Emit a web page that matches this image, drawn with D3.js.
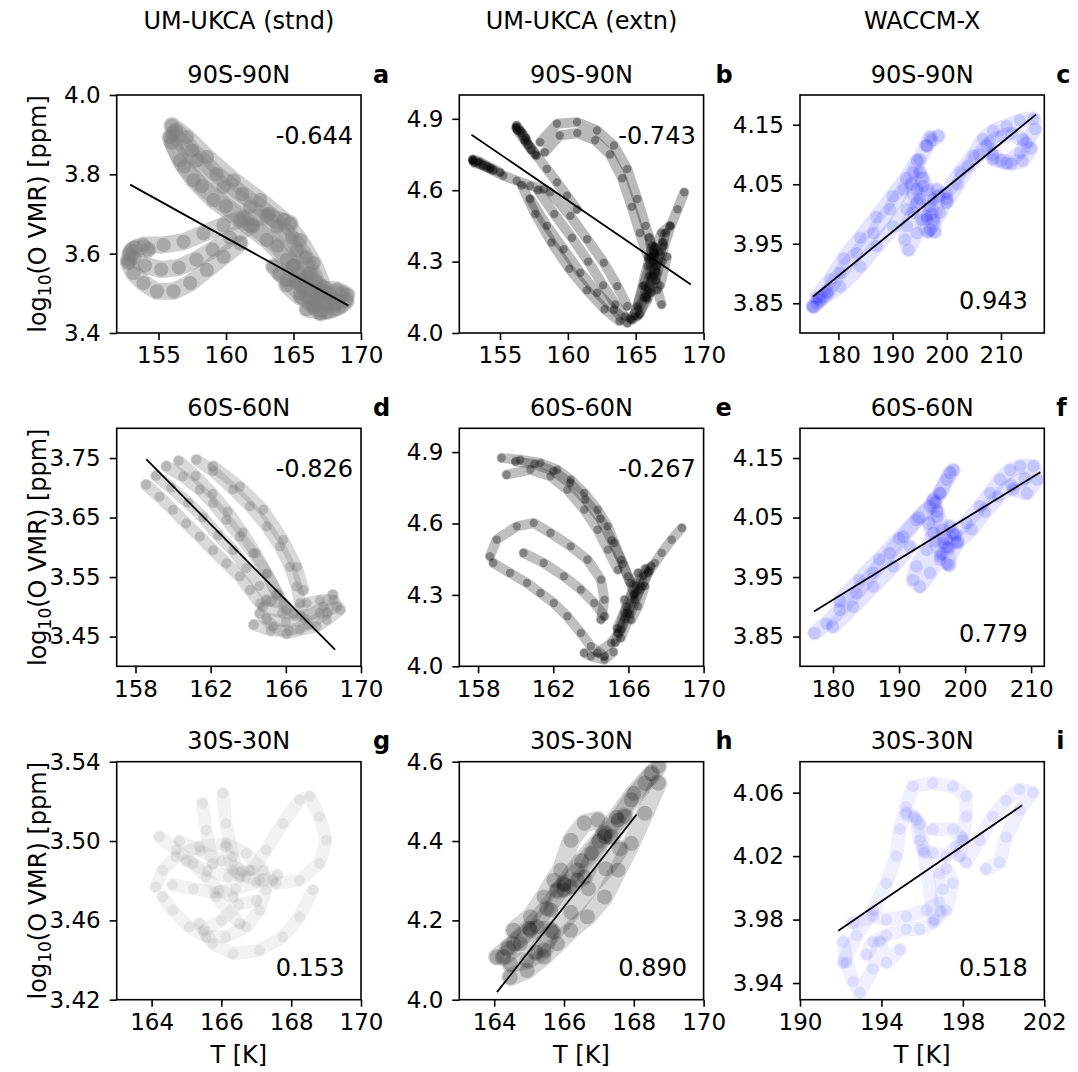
<!DOCTYPE html>
<html lang="en">
<head>
    <meta charset="UTF-8">
    <title>O VMR vs T</title>
    <script src="https://cdn.jsdelivr.net/npm/d3@7/dist/d3.min.js"></script>
    <style>
        body { margin: 0; background: #fff; }
        text { font-family: "DejaVu Sans", sans-serif; fill: #000; }
    </style>
</head>
<body>
<svg width="1078" height="1072"></svg>
<script>
// ---- labels ----
var modelNames = ["UM-UKCA (stnd)", "UM-UKCA (extn)", "WACCM-X"];
var bandNames = ["90S-90N", "60S-60N", "30S-30N"];
var letters = ["a", "b", "c", "d", "e", "f", "g", "h", "i"];
var corrText = ["-0.644", "-0.743", "0.943", "-0.826", "-0.267", "0.779", "0.153", "0.890", "0.518"];

// ---- axis limits and tick labels ----
var xLimits = [[151.9, 170], [152, 170], [172.9, 218],
               [157, 170], [157, 170], [175, 212],
               [163, 170], [163, 170], [190, 202]];
var yLimits = [[3.4, 4.0], [4.0, 5.0], [3.8, 4.2],
               [3.4, 3.8], [4.0, 5.0], [3.8, 4.2],
               [3.42, 3.54], [4.0, 4.6], [3.9295, 4.0795]];
var xTickLabels = [["155", "160", "165", "170"], ["155", "160", "165", "170"], ["180", "190", "200", "210"],
                   ["158", "162", "166", "170"], ["158", "162", "166", "170"], ["180", "190", "200", "210"],
                   ["164", "166", "168", "170"], ["164", "166", "168", "170"], ["190", "194", "198", "202"]];
var yTickLabels = [["3.4", "3.6", "3.8", "4.0"], ["4.0", "4.3", "4.6", "4.9"], ["3.85", "3.95", "4.05", "4.15"],
                   ["3.45", "3.55", "3.65", "3.75"], ["4.0", "4.3", "4.6", "4.9"], ["3.85", "3.95", "4.05", "4.15"],
                   ["3.42", "3.46", "3.50", "3.54"], ["4.0", "4.2", "4.4", "4.6"], ["3.94", "3.98", "4.02", "4.06"]];

// ---- scatter tracks, [T, log10(O VMR)] ----
var tracksA = [
    [[155.99,3.923],[157.1,3.894],[158.58,3.844],[160.56,3.785],[162.53,3.735],[164.26,3.685],[165.49,3.634],[166.48,3.576],[167.22,3.517],[167.96,3.475]],
    [[155.86,3.894],[156.6,3.835],[157.59,3.785],[159.07,3.735],[161.05,3.685],[163.02,3.634],[164.5,3.584],[165.49,3.534],[166.23,3.484],[166.98,3.45]],
    [[156.11,3.902],[157.84,3.835],[159.81,3.768],[161.79,3.718],[163.77,3.668],[165.25,3.609],[166.23,3.551],[166.98,3.5]],
    [[156.3,3.91],[157.5,3.86],[159.3,3.8],[161.2,3.75],[163.2,3.7],[164.9,3.64],[165.9,3.59],[166.7,3.53],[167.5,3.48]],
    [[156.0,3.88],[156.9,3.82],[158.2,3.77],[160.0,3.72],[162.0,3.67],[163.8,3.62],[165.0,3.57],[165.9,3.52],[166.6,3.47]],
    [[152.78,3.584],[153.02,3.609],[153.89,3.622],[155.37,3.622],[156.85,3.63],[158.33,3.651],[159.81,3.672],[161.3,3.689],[163.02,3.693],[164.75,3.676]],
    [[152.78,3.576],[153.15,3.551],[153.89,3.526],[154.88,3.505],[156.11,3.505],[157.35,3.526],[158.58,3.559],[159.81,3.592],[161.05,3.626]],
    [[153.2,3.59],[154.0,3.57],[155.2,3.56],[156.5,3.565],[157.8,3.585],[159.0,3.61],[160.3,3.64],[161.8,3.67]],
    [[152.9,3.6],[153.3,3.615],[154.2,3.61]],
    [[163.52,3.567],[164.51,3.534],[165.49,3.5],[166.48,3.467],[167.47,3.454],[168.46,3.467],[168.95,3.496],[168.21,3.509],[166.98,3.509],[165.99,3.542],[165.0,3.567]],
    [[164.5,3.52],[165.5,3.49],[166.5,3.48],[167.5,3.47],[168.3,3.48]],
    [[164.0,3.55],[165.2,3.53],[166.3,3.51],[167.5,3.5],[168.6,3.5]],
    [[166.0,3.46],[167.0,3.455],[168.0,3.46],[168.9,3.48]]
];
var tracksB = [
    [[153.03,4.724],[154.26,4.689],[155.25,4.661],[156.23,4.64],[157.22,4.619],[158.21,4.605]],
    [[153.0,4.73],[153.5,4.72],[154.3,4.695],[155.0,4.675]],
    [[153.1,4.715],[153.7,4.705],[154.5,4.685]],
    [[153.0,4.725],[153.4,4.715],[154.0,4.7]],
    [[156.23,4.872],[156.97,4.802],[157.71,4.745],[158.45,4.689],[159.2,4.633],[159.93,4.577],[160.67,4.52]],
    [[156.2,4.865],[156.6,4.84],[157.1,4.79],[157.6,4.75]],
    [[156.3,4.85],[156.8,4.81],[157.3,4.77]],
    [[156.2,4.86],[156.5,4.85],[156.9,4.82]],
    [[157.96,4.802],[159.2,4.879],[160.67,4.886],[162.15,4.851],[163.39,4.788],[164.38,4.689],[165.12,4.563],[165.73,4.45],[166.35,4.338]],
    [[158.3,4.76],[159.4,4.83],[160.7,4.84],[162.0,4.81],[163.1,4.75],[164.0,4.65],[164.7,4.53],[165.3,4.42],[165.9,4.32]],
    [[157.22,4.563],[158.45,4.45],[159.69,4.352],[160.92,4.253],[162.16,4.169],[163.39,4.098],[164.38,4.042]],
    [[157.8,4.6],[159.0,4.5],[160.3,4.4],[161.5,4.3],[162.6,4.2],[163.5,4.12],[164.2,4.07]],
    [[156.6,4.62],[157.6,4.5],[158.8,4.38],[160.1,4.27],[161.4,4.18],[162.7,4.1],[163.8,4.05]],
    [[158.7,4.591],[160.18,4.492],[161.42,4.394],[162.65,4.295],[163.64,4.197],[164.38,4.113]],
    [[166.23,4.366],[165.86,4.281],[165.49,4.197],[165.12,4.113],[164.75,4.056],[165.12,4.07],[165.86,4.141],[166.6,4.253],[167.09,4.366],[167.58,4.45],[168.08,4.52],[168.57,4.591]],
    [[164.9,4.07],[165.6,4.2],[166.2,4.32],[166.9,4.42],[167.5,4.45]],
    [[165.3,4.08],[165.9,4.18],[166.5,4.28],[167.0,4.38]],
    [[165.8,4.15],[166.3,4.24],[166.8,4.34],[167.2,4.42]],
    [[166.0,4.4],[166.3,4.3],[166.6,4.18],[166.9,4.12]],
    [[166.0,4.31],[166.5,4.22],[167.0,4.3],[166.4,4.36],[166.1,4.17],[166.8,4.2],[167.3,4.32]],
    [[164.6,4.06],[165.2,4.1],[165.6,4.15],[166.0,4.24],[166.4,4.33]]
];
var tracksC = [
    [[175.39,3.844],[177.85,3.867],[180.31,3.901],[183.38,3.934],[186.45,3.968],[189.53,4.008],[191.99,4.041],[193.83,4.07],[195.06,4.092],[196.29,4.115],[196.9,4.129]],
    [[176.62,3.856],[180.31,3.878],[184.0,3.912],[187.07,3.946],[190.14,3.979],[192.6,4.008],[194.44,4.041]],
    [[176.0,3.86],[178.5,3.89],[181.0,3.925],[184.0,3.96],[187.0,3.995],[190.0,4.03],[192.5,4.06],[194.5,4.09]],
    [[175.3,3.845],[176.0,3.85],[177.0,3.86],[178.0,3.87]],
    [[195.06,4.07],[195.67,4.047],[195.06,4.025],[193.83,4.002],[192.6,3.98],[192.29,3.957],[192.91,3.94],[194.44,3.968],[196.29,3.996],[197.52,4.025],[198.13,4.041],[196.9,4.013],[196.29,3.991],[196.9,3.974],[198.75,4.002],[199.98,4.025]],
    [[193.5,4.05],[194.5,4.02],[195.5,3.99],[196.5,3.97],[197.5,3.99],[198.5,4.03]],
    [[195.5,4.06],[196.5,4.04],[197.2,4.0],[197.8,3.97]],
    [[199.98,4.036],[202.43,4.07],[204.89,4.098],[206.74,4.126],[208.58,4.14],[211.04,4.148],[213.5,4.157],[215.96,4.16],[216.27,4.143],[214.73,4.12],[213.5,4.103],[211.04,4.086],[208.58,4.092],[207.35,4.115]],
    [[200.0,4.02],[202.0,4.05],[204.0,4.08],[206.0,4.1],[208.0,4.12],[210.0,4.13],[212.0,4.135],[214.0,4.125]],
    [[208.5,4.1],[210.0,4.09],[212.0,4.085],[214.0,4.09],[215.5,4.11]],
    [[196.29,4.115],[197.3,4.124],[198.44,4.131]]
];
var tracksD = [
    [[158.57,3.705],[159.28,3.685],[159.99,3.663],[160.7,3.64],[161.42,3.618],[162.13,3.595],[162.84,3.573],[163.55,3.551],[164.09,3.528],[164.62,3.506]],
    [[159.1,3.72],[159.9,3.7],[160.8,3.675],[161.6,3.65],[162.4,3.62],[163.2,3.595],[163.9,3.565],[164.6,3.535],[165.2,3.51]],
    [[159.64,3.736],[160.53,3.719],[161.42,3.697],[162.13,3.674],[162.84,3.646],[163.55,3.618],[164.26,3.59],[164.98,3.556],[165.51,3.523],[166.04,3.495]],
    [[160.3,3.745],[161.2,3.72],[162.1,3.69],[162.9,3.66],[163.7,3.625],[164.4,3.59],[165.0,3.555],[165.6,3.52]],
    [[161.24,3.747],[162.13,3.728],[163.2,3.697],[164.09,3.669],[164.98,3.635],[165.69,3.601],[166.22,3.567],[166.58,3.534],[166.75,3.506]],
    [[162.13,3.736],[163.55,3.702],[164.8,3.663],[165.86,3.612],[166.58,3.567],[166.93,3.528]],
    [[164.62,3.489],[165.33,3.467],[166.04,3.455],[166.75,3.461],[167.64,3.467],[168.18,3.478],[168.89,3.495],[168.53,3.511],[167.82,3.511],[167.11,3.506],[166.4,3.489],[165.87,3.506],[164.98,3.511]],
    [[164.3,3.47],[165.2,3.46],[166.2,3.46],[167.2,3.47],[168.2,3.49]],
    [[164.8,3.5],[165.8,3.49],[166.8,3.485],[167.8,3.49],[168.7,3.5]],
    [[165.0,3.48],[166.0,3.475],[167.0,3.48],[168.0,3.5],[168.5,3.52]]
];
var tracksE = [
    [[159.25,4.875],[160.24,4.868],[161.32,4.854],[162.21,4.826],[162.93,4.784],[163.65,4.728],[164.36,4.658],[164.9,4.588],[165.26,4.518],[165.62,4.448],[165.97,4.378],[166.33,4.308]],
    [[159.52,4.805],[160.78,4.826],[161.85,4.798],[162.75,4.742],[163.65,4.658],[164.36,4.574],[164.9,4.49],[165.44,4.406]],
    [[160.0,4.86],[161.0,4.85],[162.0,4.82],[162.9,4.77],[163.7,4.7],[164.5,4.62],[165.1,4.53],[165.7,4.43],[166.1,4.35]],
    [[158.81,4.434],[159.7,4.392],[160.6,4.35],[161.32,4.308],[162.03,4.266],[162.75,4.21],[163.47,4.14],[164.0,4.084],[164.72,4.042]],
    [[158.63,4.462],[158.99,4.532],[160.06,4.588],[160.96,4.602],[161.85,4.56],[162.93,4.504],[163.82,4.448],[164.54,4.364],[164.72,4.28],[164.54,4.196]],
    [[160.42,4.476],[161.49,4.434],[162.57,4.378],[163.47,4.322],[164.18,4.266],[164.72,4.21]],
    [[164.36,4.056],[165.08,4.098],[165.62,4.154],[165.97,4.224],[166.33,4.28],[166.69,4.336],[167.05,4.392],[167.41,4.434],[167.77,4.476],[168.3,4.532],[168.84,4.581]],
    [[165.3,4.1],[165.8,4.2],[166.3,4.3],[166.8,4.38],[167.2,4.42]],
    [[165.6,4.12],[166.1,4.22],[166.6,4.32],[167.1,4.4]],
    [[165.4,4.16],[165.9,4.25],[166.4,4.34],[166.9,4.41]],
    [[165.8,4.28],[166.15,4.196],[166.51,4.252],[166.87,4.336],[165.8,4.224],[165.44,4.14],[166.51,4.392]],
    [[163.65,4.056],[164.0,4.042],[164.72,4.028],[165.2,4.06]]
];
var tracksF = [
    [[177.22,3.856],[178.99,3.872],[181.01,3.895],[183.54,3.923],[186.08,3.957],[188.61,3.99],[190.63,4.018],[192.66,4.046],[194.68,4.069],[196.2,4.091],[197.72,4.125]],
    [[180.0,3.867],[183.04,3.9],[186.08,3.934],[189.11,3.968],[191.65,4.001]],
    [[181.0,3.91],[184.0,3.945],[187.0,3.98],[190.0,4.015],[193.0,4.05],[195.5,4.075]],
    [[195.19,4.08],[195.7,4.052],[195.19,4.024],[194.18,3.996],[192.66,3.968],[192.15,3.945],[193.16,3.934],[194.68,3.957],[196.2,3.985],[197.22,4.013],[197.72,4.035],[196.71,4.007],[196.2,3.979],[197.22,3.973],[198.73,4.007]],
    [[194.5,4.04],[195.5,4.01],[196.5,3.99],[197.5,4.0],[198.5,4.02]],
    [[195.8,4.06],[196.6,4.03],[197.2,4.0],[197.6,3.97]],
    [[198.23,4.024],[200.25,4.041],[202.28,4.069],[203.8,4.091],[205.32,4.114],[206.84,4.13],[208.35,4.136],[210.38,4.136],[210.89,4.114],[209.37,4.091],[207.34,4.097]],
    [[199.0,4.01],[201.0,4.03],[203.0,4.06],[205.0,4.085],[207.0,4.105],[209.0,4.115]],
    [[196.2,4.091],[197.22,4.114],[198.23,4.13]]
];
var tracksG = [
    [[164.22,3.5022],[164.7,3.4955],[165.18,3.4887],[165.56,3.482],[165.94,3.4752],[166.33,3.4719]],
    [[164.12,3.4769],[164.32,3.4853],[164.7,3.4921],[165.37,3.4971],[166.13,3.4988],[166.71,3.4938],[167.19,3.4853],[167.28,3.4752],[167.09,3.4651],[166.71,3.4567],[166.13,3.4517],[165.56,3.4517],[165.08,3.4567],[164.6,3.4651],[164.32,3.4719]],
    [[165.37,3.4584],[165.75,3.4483],[166.33,3.4432],[167.09,3.4449],[167.76,3.4517],[168.24,3.4618],[168.62,3.4752]],
    [[166.9,3.4853],[167.28,3.4955],[167.76,3.5089],[168.24,3.5207],[168.53,3.5224],[168.81,3.5123],[169.0,3.5005],[168.81,3.4887],[168.24,3.4803],[167.57,3.4786]],
    [[165.46,3.519],[165.56,3.5056],[165.75,3.4887]],
    [[166.04,3.5241],[166.13,3.5089],[166.33,3.4921],[166.52,3.482]],
    [[166.13,3.4971],[166.33,3.4853],[166.71,3.482],[167.09,3.4803],[167.47,3.4803]],
    [[164.6,3.478],[165.2,3.476],[165.8,3.474],[166.4,3.476],[167.0,3.479],[167.6,3.483]],
    [[165.0,3.49],[165.6,3.485],[166.2,3.482],[166.8,3.485]],
    [[164.8,3.5],[165.4,3.495],[166.0,3.49],[166.6,3.485]],
    [[165.5,3.455],[166.0,3.46],[166.5,3.468],[167.0,3.47]],
    [[165.85,3.4719],[166.52,3.4584]]
];
var tracksH = [
    [[164.27,4.108],[164.75,4.141],[165.23,4.184],[165.62,4.226],[166.0,4.276],[166.39,4.327],[166.78,4.369],[167.16,4.411],[167.55,4.453],[167.93,4.504],[168.32,4.546],[168.7,4.588]],
    [[164.4,4.13],[165.0,4.18],[165.5,4.23],[166.0,4.29],[166.5,4.35],[167.0,4.4],[167.5,4.46],[168.0,4.52],[168.5,4.57]],
    [[164.56,4.175],[165.04,4.209],[165.43,4.259],[165.71,4.301],[165.91,4.327],[166.2,4.402],[166.58,4.445],[166.97,4.453],[167.35,4.411],[167.74,4.462]],
    [[164.46,4.057],[164.94,4.074],[165.42,4.108],[165.81,4.141],[166.19,4.175],[166.67,4.209],[167.16,4.259],[167.55,4.327],[167.93,4.394],[168.32,4.47],[168.7,4.546]],
    [[165.2,4.12],[165.7,4.17],[166.2,4.22],[166.7,4.28],[167.2,4.33],[167.6,4.38]],
    [[164.08,4.108],[164.56,4.141],[165.04,4.175],[165.62,4.175],[165.43,4.125],[164.94,4.099],[164.46,4.091]],
    [[166.0,4.293],[166.19,4.285],[166.39,4.301],[165.81,4.276],[166.58,4.31],[167.16,4.419]]
];
var tracksI = [
    [[192.12,3.953],[192.78,3.97],[193.59,3.986],[194.24,4.003],[194.73,4.02],[194.9,4.037],[195.22,4.051],[195.55,4.064],[196.53,4.066],[197.51,4.064],[198.16,4.058],[198.16,4.045],[198.0,4.032],[197.84,4.02]],
    [[195.22,4.047],[195.71,4.043],[195.88,4.03],[196.04,4.024],[196.53,4.022],[197.18,4.02],[197.67,4.026],[198.0,4.03],[197.51,4.037],[196.53,4.037]],
    [[192.61,3.978],[193.59,3.982],[194.24,3.98],[195.22,3.982],[196.2,3.986],[196.86,3.991],[197.02,3.999],[196.86,4.009],[197.18,4.012],[197.51,4.003],[197.18,3.986],[196.53,3.978],[195.88,3.974],[195.22,3.974],[194.24,3.97],[193.59,3.966],[193.27,3.958]],
    [[192.12,3.966],[192.29,3.953],[192.61,3.941],[192.94,3.934],[193.59,3.949],[193.92,3.966],[194.24,3.953],[194.9,3.961]],
    [[198.16,4.016],[198.82,4.03],[199.47,4.045],[200.12,4.055],[200.78,4.062],[201.43,4.06],[200.78,4.049],[200.12,4.032],[199.8,4.016],[199.14,4.012]],
    [[195.6,4.045],[195.9,4.04],[196.1,4.022],[196.6,3.98],[196.9,3.985]]
];
var allTracks = [tracksA, tracksB, tracksC, tracksD, tracksE, tracksF, tracksG, tracksH, tracksI];

// ---- least-squares lines (end points), null where none is drawn ----
var fitLines = [
    [[152.9, 3.774], [169.07, 3.469]],
    [[152.9, 4.833], [169.06, 4.204]],
    [[175.27, 3.861], [216.45, 4.167]],
    [[158.57, 3.748], [168.62, 3.428]],
    null,
    [[177.11, 3.892], [211.39, 4.126]],
    null,
    [[164.08, 4.019], [168.08, 4.467]],
    [[191.88, 3.973], [200.91, 4.052]]
];

// ---- look ----
var colLeft = [116.7, 459.3, 800];
var rowTop = [95, 428.3, 761.7];
var pw = 244.3, ph = 238;
var panelStyle = [
    {color: "#808080", w: 17, op: 0.38}, {color: "#000000", w: 10, op: 0.27}, {color: "#0000ff", w: 15, op: 0.1},
    {color: "#808080", w: 12, op: 0.3},  {color: "#000000", w: 10, op: 0.25}, {color: "#0000ff", w: 15, op: 0.1},
    {color: "#808080", w: 13, op: 0.1},  {color: "#000000", w: 18, op: 0.16}, {color: "#0000ff", w: 14, op: 0.06}
];

var svg = d3.select("svg");
var defs = svg.append("defs");

// column headers
modelNames.forEach(function (m, c) {
    svg.append("text")
        .attr("x", colLeft[c] + pw / 2).attr("y", 28.5)
        .attr("text-anchor", "middle").style("font-size", "24px")
        .text(m);
});

for (var k = 0; k < 9; k++) {
    var r = Math.floor(k / 3), c = k % 3;
    var x0 = colLeft[c], y0 = rowTop[r];
    var st = panelStyle[k];

    var x = d3.scaleLinear().domain(xLimits[k]).range([0, pw]);
    var y = d3.scaleLinear().domain(yLimits[k]).range([ph, 0]);

    var g = svg.append("g").attr("transform", "translate(" + x0 + "," + y0 + ")");

    defs.append("clipPath").attr("id", "clip" + k)
        .append("rect").attr("width", pw).attr("height", ph);

    var plot = g.append("g").attr("clip-path", "url(#clip" + k + ")");
    var line = d3.line().x(function (d) { return x(d[0]); }).y(function (d) { return y(d[1]); });

    // scatter clouds: each track as a thick translucent stroke with dots at the samples
    allTracks[k].forEach(function (tr) {
        plot.append("path").datum(tr)
            .attr("d", line)
            .attr("fill", "none")
            .attr("stroke", st.color)
            .attr("stroke-width", st.w)
            .attr("stroke-linecap", "round")
            .attr("stroke-linejoin", "round")
            .attr("opacity", st.op);
        plot.selectAll(null).data(tr).enter().append("circle")
            .attr("cx", function (d) { return x(d[0]); })
            .attr("cy", function (d) { return y(d[1]); })
            .attr("r", st.w * 0.42)
            .attr("fill", st.color)
            .attr("opacity", st.op * 1.3);
    });

    if (fitLines[k]) {
        plot.append("path").datum(fitLines[k])
            .attr("d", line)
            .attr("fill", "none").attr("stroke", "#000").attr("stroke-width", 1.8);
    }

    // axes
    var xt = xTickLabels[k], yt = yTickLabels[k];
    var xAxis = d3.axisBottom(x).tickValues(xt.map(Number))
        .tickFormat(function (d, i) { return xt[i]; })
        .tickSize(7).tickPadding(7).tickSizeOuter(0);
    var yAxis = d3.axisLeft(y).tickValues(yt.map(Number))
        .tickFormat(function (d, i) { return yt[i]; })
        .tickSize(7).tickPadding(9).tickSizeOuter(0);

    var gx = g.append("g").attr("transform", "translate(0," + ph + ")").call(xAxis);
    var gy = g.append("g").call(yAxis);
    [gx, gy].forEach(function (a) {
        a.select(".domain").remove();
        a.selectAll("line").attr("stroke", "#000").attr("stroke-width", 1.6);
        a.selectAll("text").style("font-size", "23px")
            .style("font-family", "'DejaVu Sans', sans-serif").attr("fill", "#000");
    });

    g.append("rect").attr("width", pw).attr("height", ph)
        .attr("fill", "none").attr("stroke", "#000").attr("stroke-width", 1.6);

    // title, letter, r value
    g.append("text").attr("x", pw / 2).attr("y", -12.5)
        .attr("text-anchor", "middle").style("font-size", "24px").text(bandNames[r]);
    g.append("text").attr("x", pw + 12).attr("y", -12.5)
        .style("font-size", "24px").style("font-weight", "bold").text(letters[k]);
    var neg = corrText[k].charAt(0) === "-";
    g.append("text").attr("x", 159).attr("y", neg ? 48.5 : ph - 24)
        .style("font-size", "24px").text(corrText[k]);

    if (c === 0) {
        var yl = g.append("text")
            .attr("transform", "translate(" + (46 - x0) + "," + (ph / 2) + ") rotate(-90)")
            .attr("text-anchor", "middle").style("font-size", "24px");
        yl.append("tspan").text("log");
        yl.append("tspan").attr("dy", 5).style("font-size", "17px").text("10");
        yl.append("tspan").attr("dy", -5).text("(O VMR) [ppm]");
    }
    if (r === 2) {
        g.append("text").attr("x", pw / 2).attr("y", ph + 63)
            .attr("text-anchor", "middle").style("font-size", "24px").text("T [K]");
    }
}
</script>
</body>
</html>
